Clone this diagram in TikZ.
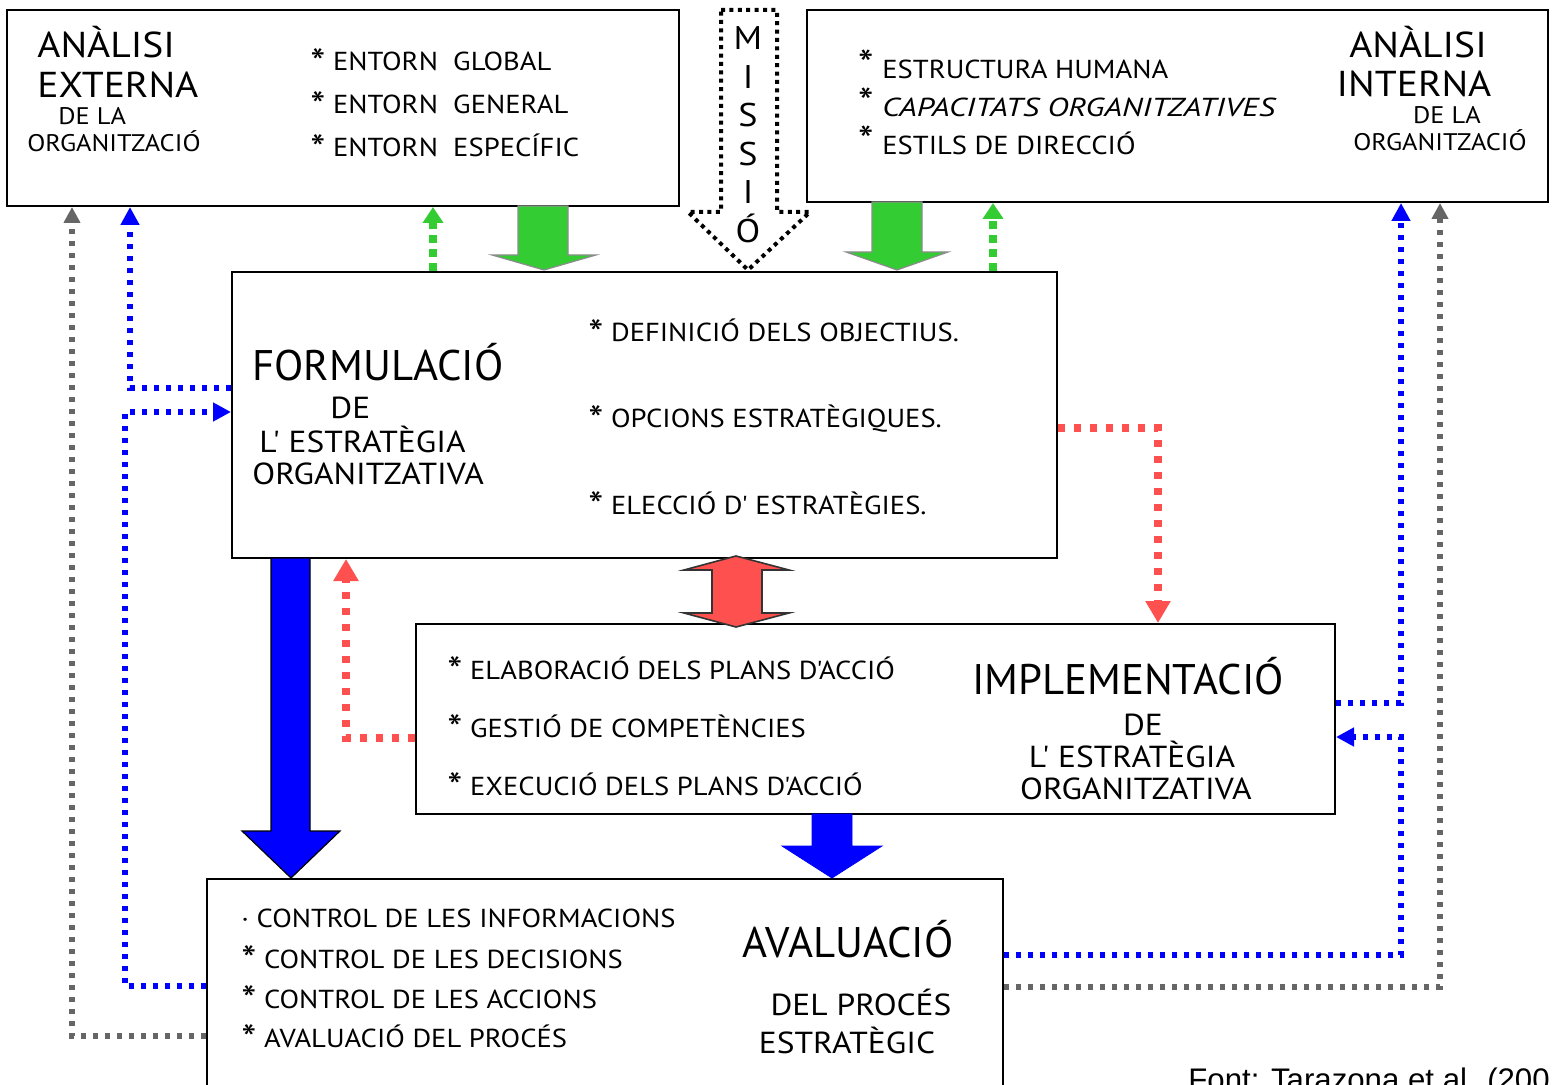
\documentclass[tikz,border=0pt]{standalone}
\usepackage{fontspec}
\setmainfont{PT Sans}
\newfontfamily\wf{PT Sans}[FakeStretch=1.1]
\newfontfamily\srcfont{Liberation Sans}
\usetikzlibrary{arrows.meta,fit}
\definecolor{grn}{HTML}{33CC33}
\definecolor{redd}{HTML}{FF5050}
\definecolor{blu}{HTML}{0000FF}
\definecolor{gry}{HTML}{666666}
\newcommand\fs[1]{\fontsize{#1}{#1}\selectfont}
\newcommand\bul{\raisebox{-0.45ex}{\scalebox{1.5}{*}}}
\newcommand\bigbul{\makebox[12pt][l]{\fs{20}*}}
\begin{document}
\begin{tikzpicture}[x=0.5pt,y=-0.5pt,
  box/.style={draw=black, line width=1pt, inner sep=0pt},
  lbl/.style={anchor=base west, inner sep=0pt},
  ctr/.style={anchor=base, inner sep=0pt},
  item/.style={lbl, font=\wf\fs{13}},
  big/.style={ctr, font=\fs{21.4}},
  head/.style={font=\wf\fs{18}},
  small/.style={font=\wf\fs{12}},
  sub/.style={font=\wf\fs{15.2}},
  conn/.style={line width=2.7pt, dash pattern=on 2.6pt off 3.4pt},
  bconn/.style={conn, draw=blu, -{Triangle[length=9pt,width=9pt]}},
  gconn/.style={conn, draw=gry, -{Triangle[length=8pt,width=8pt]}},
  rconn/.style={line width=3.6pt, dash pattern=on 3.6pt off 4.4pt, draw=redd, -{Triangle[length=11pt,width=12pt]}},
  vconn/.style={line width=3.6pt, dash pattern=on 4pt off 3pt, draw=grn, -{Triangle[length=8pt,width=10pt]}},
  fatgreen/.style={fill=grn, draw=black!45, line width=0.6pt},
  fatblue/.style={fill=blu, draw=black, line width=0.6pt},
  fatred/.style={fill=redd, draw=black!80, line width=0.8pt}]
\useasboundingbox (0,0) rectangle (1552,1085);
\clip (0,0) rectangle (1552,1085);
\fill[white] (0,0) rectangle (1552,1085);

% ---- boxes ----
\node[box, fit={(7,10) (679,206)}] (ext) {};
\node[box, fit={(807,10) (1548,202)}] (int) {};
\node[box, fit={(232,272) (1057,558)}] (form) {};
\node[box, fit={(416,624) (1335,814)}] (impl) {};
\node[box, fit={(207,879) (1003,1110)}] (aval) {};

% ---- mission arrow ----
\draw[line width=2pt, dash pattern=on 2pt off 2.2pt, fill=white]
  (721,10) -- (777,10) -- (777,212) -- (810,212) -- (748,270)
  -- (688,212) -- (721,212) -- cycle;
\foreach \c/\y in {M/50, I/89, S/127, S/166, I/204, Ó/243}
  \node[ctr, font=\wf\fs{16.4}] at (748,\y) {\c};

% ---- block arrows ----
\draw[fatgreen] (518,206) -- (568,206) -- (568,255) -- (596,255) -- (544,270)
  -- (492,255) -- (518,255) -- cycle;
\draw[fatgreen] (872,202) -- (922,202) -- (922,252) -- (948,252) -- (897,270)
  -- (846,252) -- (872,252) -- cycle;
\draw[fatred] (736,556) -- (789,570) -- (762,570) -- (762,613) -- (789,613)
  -- (736,627) -- (684,613) -- (712,613) -- (712,570) -- (684,570) -- cycle;
\draw[fatblue] (271,558) -- (310,558) -- (310,831) -- (340,831) -- (291,878)
  -- (242,831) -- (271,831) -- cycle;
\draw[fill=blu, draw=blu] (812,814) -- (852,814) -- (852,846) -- (882,846)
  -- (832,878) -- (782,846) -- (812,846) -- cycle;

% ---- bend points ----
\coordinate (gL) at (72,1036);
\coordinate (bA) at (130,388);
\coordinate (bB1) at (125,986);
\coordinate (bB2) at (125,412);
\coordinate (vA) at (433,0);
\coordinate (vB) at (993,0);
\coordinate (rA) at (1158,428);
\coordinate (rB) at (346,738);
\coordinate (bC) at (1401,703);
\coordinate (bD1) at (1401,955);
\coordinate (bD2) at (1401,737);
\coordinate (gR) at (1440,987);

% ---- feedback connectors ----
\draw[gconn] (aval.west |- gL) -- (gL) -- (ext.south -| gL);
\draw[bconn] (form.west |- bA) -- (bA) -- (ext.south -| bA);
\draw[bconn] (aval.west |- bB1) -- (bB1) -- (bB2) -- (form.west |- bB2);
\draw[vconn] (form.north -| vA) -- (ext.south -| vA);
\draw[vconn] (form.north -| vB) -- (int.south -| vB);
\draw[rconn] (form.east |- rA) -- (rA) -- (impl.north -| rA);
\draw[rconn] (impl.west |- rB) -- (rB) -- (form.south -| rB);
\draw[bconn] (impl.east |- bC) -- (bC) -- (int.south -| bC);
\draw[bconn] (aval.east |- bD1) -- (bD1) -- (bD2) -- (impl.east |- bD2);
\draw[gconn] (aval.east |- gR) -- (gR) -- (int.south -| gR);

% ---- external analysis ----
\node[lbl, head] (e1) at (37,58) {ANÀLISI};
\node[lbl, head] (e2) at (37,98) {EXTERNA};
\node[lbl, small] (e3) at (58,125) {DE LA};
\node[lbl, small] (e4) at (27,152) {ORGANITZACIÓ};
\node[item] (e5) at (310,71) {\bul\ ENTORN\ \ GLOBAL};
\node[item] (e6) at (310,114) {\bul\ ENTORN\ \ GENERAL};
\node[item] (e7) at (310,157) {\bul\ ENTORN\ \ ESPECÍFIC};

% ---- internal analysis ----
\node[item] (i1) at (858,79) {\bigbul ESTRUCTURA HUMANA};
\node[item] (i2) at (858,117) {\bigbul\itshape\scalebox{1.12}[1]{CAPACITATS ORGANITZATIVES}};
\node[item] (i3) at (858,155) {\bigbul ESTILS DE DIRECCIÓ};
\node[ctr, head] (i4) at (1418,58) {ANÀLISI};
\node[ctr, head] (i5) at (1414,97) {INTERNA};
\node[ctr, small] (i6) at (1447,124) {DE LA};
\node[ctr, small] (i7) at (1440,151) {ORGANITZACIÓ};

% ---- formulation ----
\node[lbl, font=\fs{21.4}] (f1) at (252,380) {FORMULACIÓ};
\node[lbl, sub] (f2) at (330,418) {DE};
\node[lbl, sub] (f3) at (259,452) {L' ESTRATÈGIA};
\node[lbl, sub] (f4) at (252,484) {ORGANITZATIVA};
\node[item] (f5) at (588,342) {\bul\ DEFINICIÓ DELS OBJECTIUS.};
\node[item] (f6) at (588,428) {\bul\ OPCIONS ESTRATÈGIQUES.};
\node[item] (f7) at (588,514) {\bul\ ELECCIÓ D' ESTRATÈGIES.};

% ---- implementation ----
\node[item] (m1) at (447,679) {\bul\ ELABORACIÓ DELS PLANS D'ACCIÓ};
\node[item] (m2) at (447,737) {\bul\ GESTIÓ DE COMPETÈNCIES};
\node[item] (m3) at (447,795) {\bul\ EXECUCIÓ DELS PLANS D'ACCIÓ};
\node[big] (m4) at (1128,694) {IMPLEMENTACIÓ};
\node[ctr, sub] (m5) at (1143,735) {DE};
\node[ctr, sub] (m6) at (1132,767) {L' ESTRATÈGIA};
\node[ctr, sub] (m7) at (1136,799) {ORGANITZATIVA};

% ---- evaluation ----
\node[item] (a1) at (241,927) {· CONTROL DE LES INFORMACIONS};
\node[item] (a2) at (241,968) {\bul\ CONTROL DE LES DECISIONS};
\node[item] (a3) at (241,1008) {\bul\ CONTROL DE LES ACCIONS};
\node[item] (a4) at (241,1047) {\bul\ AVALUACIÓ DEL PROCÉS};
\node[big] (a5) at (848,957) {AVALUACIÓ};
\node[ctr, sub] (a6) at (861,1015) {DEL PROCÉS};
\node[ctr, sub] (a7) at (847,1053) {ESTRATÈGIC};

% ---- source line ----
\node[lbl, font=\srcfont\fs{15.6}] (src) at (1188,1090) {Font: Tarazona et al. (200};
\end{tikzpicture}
\end{document}
